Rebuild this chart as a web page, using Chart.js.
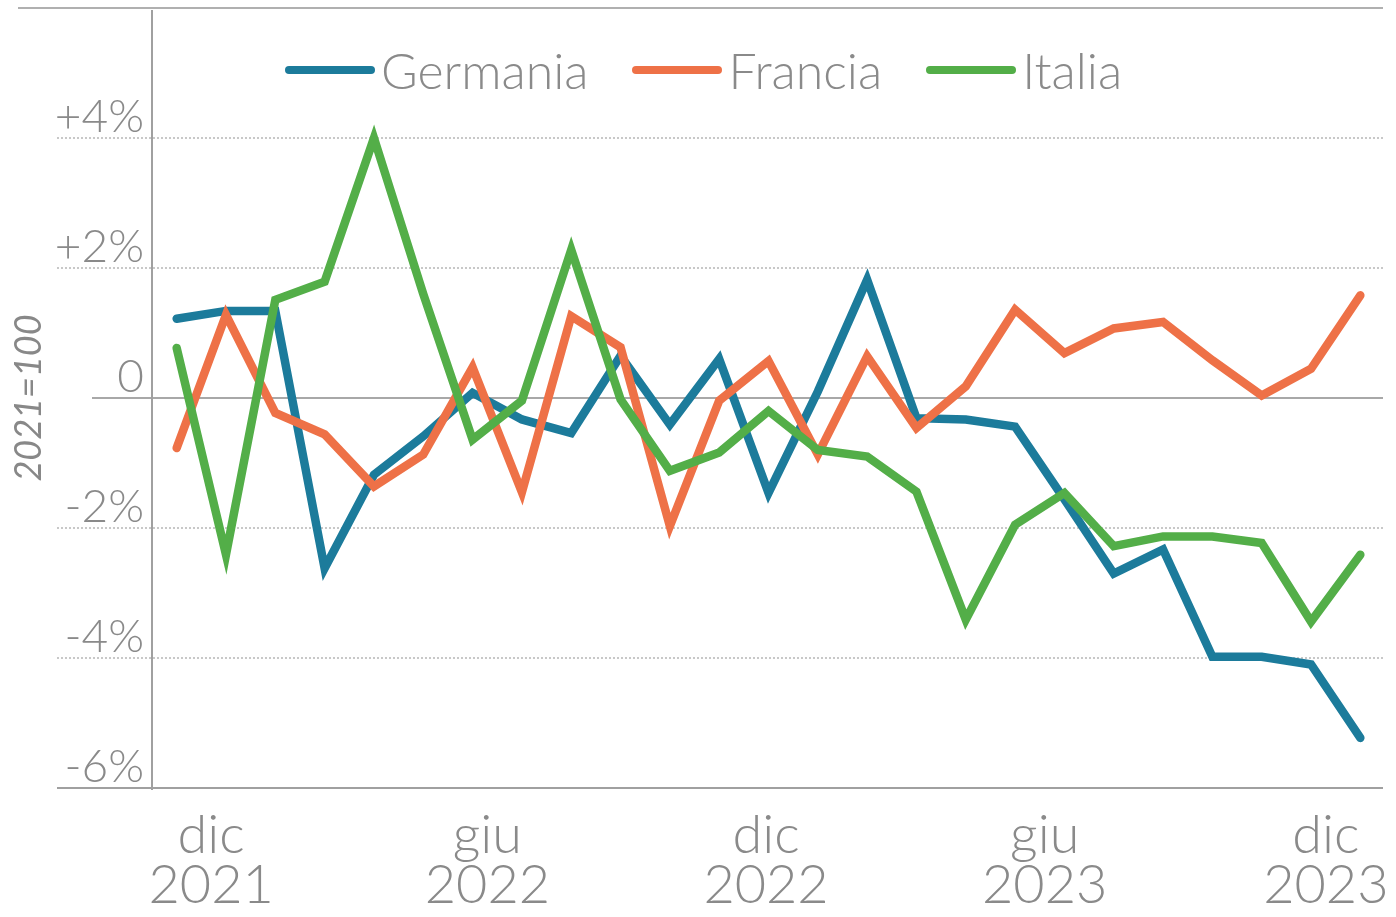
<!DOCTYPE html>
<html>
<head>
<meta charset="utf-8">
<script src="https://cdn.jsdelivr.net/npm/chart.js@4.4.0/dist/chart.umd.min.js"></script>
<style>
    html, body { margin: 0; padding: 0; background: #fff; }
    #wrap { position: relative; width: 1396px; height: 917px; }
    #legend {
        position: absolute; top: 44px; left: 285px;
        display: flex; align-items: center;
        font-family: Lato, sans-serif; font-weight: 300; font-size: 50px;
        color: #8a8a8a; line-height: 52px;
    }
    .item { display: flex; align-items: center; margin-right: 44px; }
    .swatch { width: 90px; height: 8px; border-radius: 4px; margin-right: 6px; }
</style>
</head>
<body>
<div id="wrap">
    <canvas id="chart" width="1396" height="917"></canvas>
    <div id="legend"></div>
</div>
<script>
// mesi da dic 2021 a dic 2023
const months = ['dic 2021', 'gen 2022', 'feb 2022', 'mar 2022', 'apr 2022', 'mag 2022', 'giu 2022',
    'lug 2022', 'ago 2022', 'set 2022', 'ott 2022', 'nov 2022', 'dic 2022', 'gen 2023', 'feb 2023',
    'mar 2023', 'apr 2023', 'mag 2023', 'giu 2023', 'lug 2023', 'ago 2023', 'set 2023', 'ott 2023',
    'nov 2023', 'dic 2023'];

const germania = [1.22, 1.34, 1.34, -2.62, -1.18, -0.59, 0.08, -0.33, -0.54, 0.65, -0.41, 0.6, -1.46,
    0.1, 1.82, -0.31, -0.33, -0.44, -1.56, -2.7, -2.33, -3.98, -3.98, -4.1, -5.23];
const francia = [-0.77, 1.28, -0.23, -0.56, -1.36, -0.87, 0.47, -1.45, 1.26, 0.78, -1.97, -0.04, 0.57,
    -0.87, 0.64, -0.46, 0.18, 1.36, 0.69, 1.07, 1.17, 0.58, 0.04, 0.45, 1.58];
const italia = [0.77, -2.41, 1.51, 1.79, 4.0, 1.6, -0.64, -0.04, 2.28, -0.02, -1.12, -0.84, -0.2,
    -0.8, -0.9, -1.44, -3.41, -1.95, -1.46, -2.28, -2.13, -2.13, -2.23, -3.44, -2.41];

// etichette asse x (posizione in indice mese)
const tickPos = [0.7, 6.3, 11.95, 17.6, 23.3];
const tickLabels = [['dic', '2021'], ['giu', '2022'], ['dic', '2022'], ['giu', '2023'], ['dic', '2023']];

const series = [
    { name: 'Germania', values: germania, color: '#1c7b9b' },
    { name: 'Francia', values: francia, color: '#ee7147' },
    { name: 'Italia', values: italia, color: '#53ae48' }
];

const GRAY = '#8a8a8a';
const FONT = 'Lato, sans-serif';

// linee di griglia e assi disegnate a mano (si estendono sotto le etichette)
const axisLines = {
    id: 'axisLines',
    beforeDatasetsDraw(chart) {
        const { ctx, chartArea: a, scales: { y } } = chart;
        const line = (x1, y1, x2, y2) => {
            ctx.beginPath(); ctx.moveTo(x1, y1); ctx.lineTo(x2, y2); ctx.stroke();
        };
        ctx.save();
        ctx.lineWidth = 2;
        ctx.strokeStyle = '#c8c8c8';
        ctx.setLineDash([2, 2]);
        y.ticks.forEach(t => {
            if (t.value === 0 || t.value === y.min || t.value === y.max) return;
            const py = Math.round(y.getPixelForValue(t.value));
            line(a.left - 95, py, a.right, py);
        });
        ctx.setLineDash([]);
        ctx.strokeStyle = '#a8a8a8';
        const z = Math.round(y.getPixelForValue(0));
        line(a.left - 60, z, a.right - 2, z);
        ctx.strokeStyle = '#b0b0b0';
        line(a.left - 134, a.top, a.right - 2, a.top);
        ctx.strokeStyle = '#a0a0a0';
        line(a.left - 95, a.bottom, a.right - 2, a.bottom);
        line(a.left, a.top + 2, a.left, a.bottom + 2);
        ctx.restore();
    }
};

const ctx = document.getElementById('chart');
new Chart(ctx, {
    type: 'line',
    data: {
        datasets: series.map((s, k) => ({
            label: s.name,
            data: s.values.map((v, i) => ({ x: i, y: v })),
            borderColor: s.color,
            backgroundColor: s.color,
            borderWidth: 8.5,
            borderCapStyle: 'round',
            borderJoinStyle: 'miter',
            pointRadius: 0,
            tension: 0,
            order: 3 - k
        }))
    },
    options: {
        responsive: false,
        animation: false,
        layout: { padding: { top: 8, right: 11, bottom: 0, left: 0 } },
        plugins: {
            legend: { display: false },
            tooltip: { enabled: false }
        },
        scales: {
            x: {
                type: 'linear',
                min: -0.5,
                max: 24.5,
                grid: { display: false },
                border: { display: false },
                afterBuildTicks: (scale) => { scale.ticks = tickPos.map(v => ({ value: v })); },
                afterFit: (scale) => {
                    scale.height = 129;
                    scale.paddingLeft = 0;
                    scale.paddingRight = 0;
                },
                ticks: {
                    autoSkip: false,
                    maxRotation: 0,
                    padding: 14,
                    color: GRAY,
                    font: { family: FONT, size: 54, weight: 300, lineHeight: 0.93 },
                    callback: (v) => {
                        const i = tickPos.indexOf(v);
                        return i >= 0 ? tickLabels[i] : '';
                    }
                }
            },
            y: {
                min: -6,
                max: 6,
                grid: { display: false },
                border: { display: false },
                afterFit: (scale) => {
                    scale.width = 152;
                    scale.paddingTop = 0;
                    scale.paddingBottom = 0;
                },
                title: {
                    display: true,
                    text: '2021=100',
                    color: '#888',
                    padding: { top: 8, bottom: 0 },
                    font: { family: FONT, size: 36, style: 'italic' }
                },
                ticks: {
                    stepSize: 2,
                    padding: 0,
                    labelOffset: -21,
                    color: GRAY,
                    font: { family: FONT, size: 46, weight: 300 },
                    callback: (v) => {
                        if (v === 6) return '';
                        if (v === 0) return '0';
                        return (v > 0 ? '+' : '') + v + '%';
                    }
                }
            }
        }
    },
    plugins: [axisLines]
});

// legenda HTML
const legend = document.getElementById('legend');
series.forEach(s => {
    const item = document.createElement('div');
    item.className = 'item';
    const sw = document.createElement('span');
    sw.className = 'swatch';
    sw.style.background = s.color;
    const txt = document.createElement('span');
    txt.textContent = s.name;
    item.appendChild(sw);
    item.appendChild(txt);
    legend.appendChild(item);
});
</script>
</body>
</html>
